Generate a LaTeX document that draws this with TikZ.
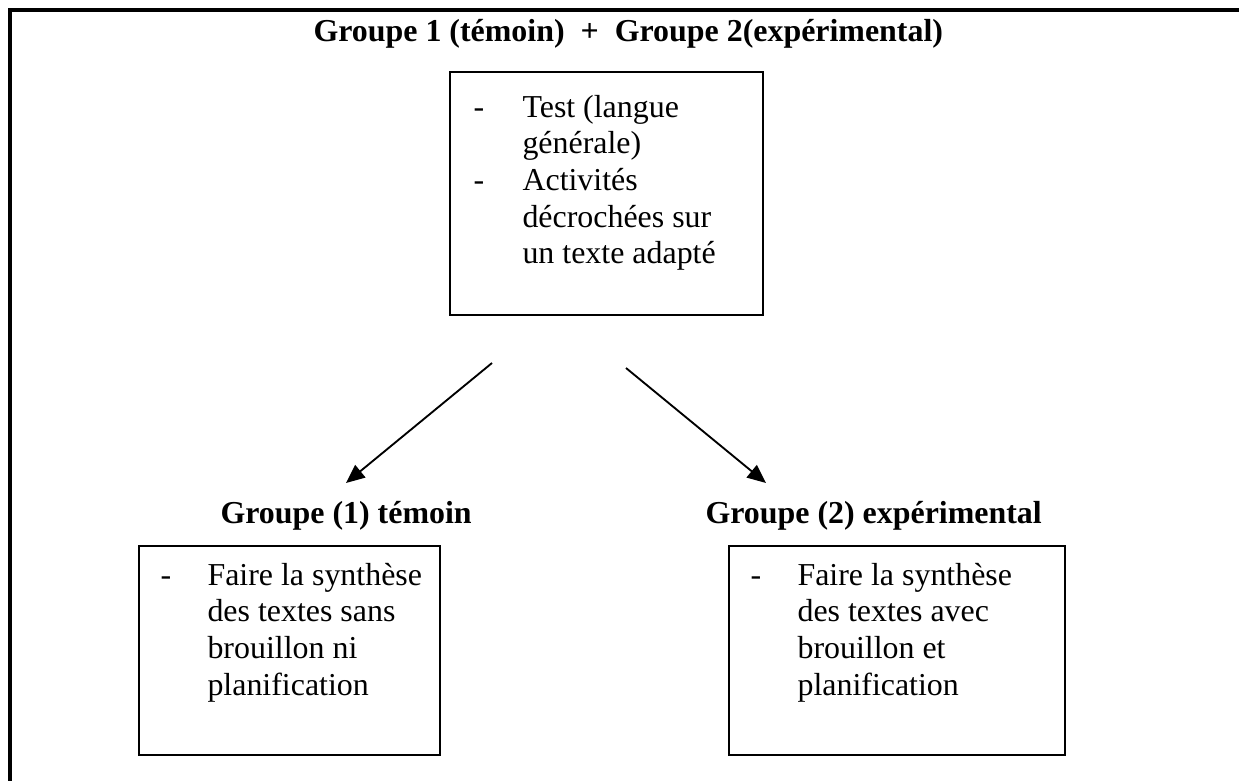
\documentclass[tikz,border=0pt]{standalone}
\usepackage{fontspec}
\setmainfont{Liberation Serif}
\usetikzlibrary{arrows.meta,fit}

\newcommand{\lines}[1]{\begin{tabular}[t]{@{}l@{}}#1\end{tabular}}

\tikzset{
  txt/.style={inner sep=0pt, anchor=base west, font=\fontsize{12}{13.8}\selectfont},
  head/.style={txt, font=\fontsize{12}{13.8}\selectfont\bfseries},
  panel/.style={draw, line width=0.75pt, inner sep=0pt},
  link/.style={line width=0.7pt, -{Triangle[length=7pt,width=6pt]}}
}

\begin{document}
\begin{tikzpicture}[x=0.376pt, y=-0.376pt]
  \useasboundingbox (0,0) rectangle (1239,780);
  \clip (0,0) rectangle (1239,780);

  % outer frame
  \draw[line width=1.2pt] (10,800) -- (10,10) -- (1260,10);

  % title
  \node[head] (title) at (313,42) {Groupe 1 (témoin)\ \ +\ \ Groupe 2(expérimental)};

  % common stage
  \coordinate (tnw) at (450,72);
  \coordinate (tse) at (763,315);
  \node[panel, fit=(tnw)(tse)] (common) {};
  \node[txt] (d1) at (473,117) {-};
  \node[txt] (c1) at (522,117) {\lines{Test (langue\\générale)}};
  \node[txt] (d2) at (473,190.3) {-};
  \node[txt] (c2) at (522,190.3) {\lines{Activités\\décrochées sur\\un texte adapté}};

  % arrows
  \coordinate (la) at (492,363);
  \coordinate (lb) at (346,483);
  \coordinate (ra) at (626,368);
  \coordinate (rb) at (766,483);
  \draw[link] (la) -- (lb);
  \draw[link] (ra) -- (rb);

  % control group
  \node[head] (g1) at (220,523) {Groupe (1) témoin};
  \coordinate (lnw) at (139,546);
  \coordinate (lse) at (440,755);
  \node[panel, fit=(lnw)(lse)] (control) {};
  \node[txt] (d3) at (160,585) {-};
  \node[txt] (c3) at (207,585) {\lines{Faire la synthèse\\des textes sans\\brouillon ni\\planification}};

  % experimental group
  \node[head] (g2) at (705,523) {Groupe (2) expérimental};
  \coordinate (rnw) at (729,546);
  \coordinate (rse) at (1065,755);
  \node[panel, fit=(rnw)(rse)] (exper) {};
  \node[txt] (d4) at (750,585) {-};
  \node[txt] (c4) at (797,585) {\lines{Faire la synthèse\\des textes avec\\brouillon et\\planification}};
\end{tikzpicture}
\end{document}
